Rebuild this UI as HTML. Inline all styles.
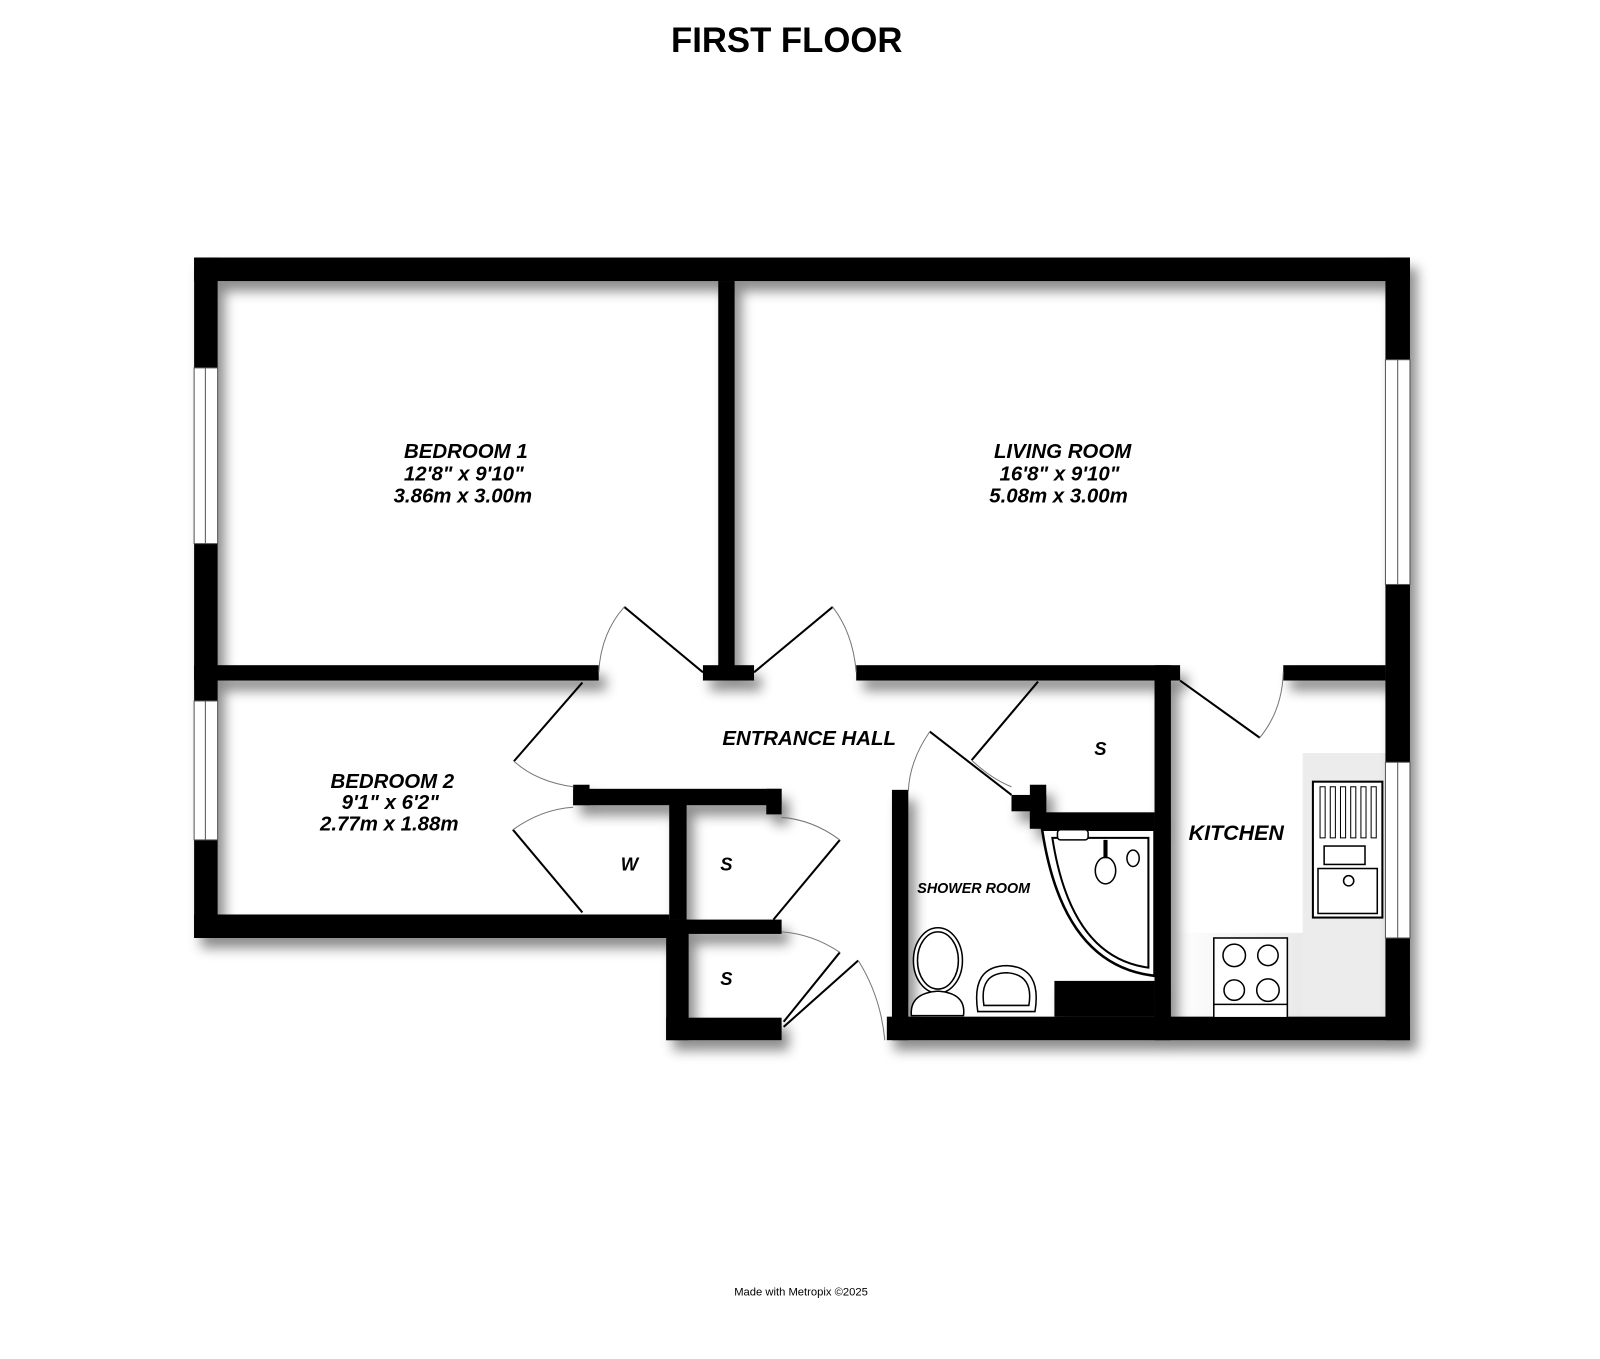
<!DOCTYPE html>
<html><head><meta charset="utf-8"><style>
html,body{margin:0;padding:0;background:#fff}
svg{display:block}
text{font-family:"Liberation Sans",sans-serif;font-weight:bold;font-style:italic;fill:#000}
</style></head><body>
<svg width="1600" height="1359" viewBox="0 0 1566 1330" xmlns="http://www.w3.org/2000/svg">
<defs>
<filter id="sh" x="-10%" y="-10%" width="130%" height="130%">
<feDropShadow dx="7" dy="10" stdDeviation="6" flood-color="#000" flood-opacity="0.45"/>
</filter>
<linearGradient id="cg" x1="0" x2="1"><stop offset="0" stop-color="#fff"/><stop offset="1" stop-color="#e6e6e6"/></linearGradient>
</defs>
<rect width="1566" height="1330" fill="#fff"/>
<text x="770" y="51" text-anchor="middle" style="font-style:normal;font-size:34px">FIRST FLOOR</text>

<rect x="1146" y="913" width="150" height="82" fill="url(#cg)"/>
<rect x="1275" y="737" width="81" height="258" fill="#ececec"/>

<g filter="url(#sh)" fill="#000">
<rect x="190" y="252" width="1190" height="23"/>
<rect x="190" y="252" width="23" height="666"/>
<rect x="1356" y="252" width="24" height="766"/>
<rect x="703" y="275" width="16" height="390"/>
<rect x="190" y="651" width="396" height="15"/>
<rect x="688" y="651" width="50" height="15"/>
<rect x="838" y="651" width="317" height="15"/>
<rect x="1256" y="651" width="100" height="15"/>
<rect x="190" y="895" width="465" height="23"/>
<rect x="655" y="900" width="110" height="14"/>
<rect x="561" y="772" width="204" height="16"/>
<rect x="561" y="768" width="16" height="20"/>
<rect x="750" y="772" width="15" height="25"/>
<rect x="655" y="784" width="17" height="116"/>
<rect x="652" y="900" width="22" height="118"/>
<rect x="652" y="996" width="113" height="22"/>
<rect x="873" y="773" width="16" height="245"/>
<rect x="868" y="995" width="512" height="23"/>
<rect x="1130" y="651" width="16" height="367"/>
<rect x="1008" y="795" width="122" height="16"/>
<rect x="1008" y="768" width="16" height="43"/>
<rect x="990" y="778" width="34" height="16"/>
<rect x="1032" y="960" width="98" height="35"/>
</g>

<g fill="#fff" stroke="#555" stroke-width="1">
<rect x="190" y="360" width="23" height="172"/><line x1="201" y1="360" x2="201" y2="532"/>
<rect x="190" y="686" width="23" height="136"/><line x1="201" y1="686" x2="201" y2="822"/>
<rect x="1356" y="352" width="24" height="220"/><line x1="1368" y1="352" x2="1368" y2="572"/>
<rect x="1356" y="746" width="24" height="172"/><line x1="1368" y1="746" x2="1368" y2="918"/>
</g>

<g fill="none" stroke="#000" stroke-width="2">
<line x1="688" y1="658" x2="611" y2="594"/>
<line x1="738" y1="658" x2="815" y2="594"/>
<line x1="570" y1="668" x2="503" y2="745"/>
<line x1="502" y1="812" x2="570" y2="893"/>
<line x1="757" y1="900" x2="822" y2="822"/>
<line x1="767" y1="1000" x2="822" y2="932"/>
<line x1="767" y1="1005" x2="840" y2="940"/>
<line x1="910" y1="716" x2="990" y2="778"/>
<line x1="1016" y1="667" x2="951" y2="744"/>
<line x1="1155" y1="666" x2="1233" y2="722"/>
</g>
<g fill="none" stroke="#777" stroke-width="1">
<path d="M611 594 Q588 620 586 658"/>
<path d="M815 594 Q835 620 838 658"/>
<path d="M503 745 Q525 765 561 770"/>
<path d="M502 812 Q530 792 561 790"/>
<path d="M822 822 Q795 802 765 800"/>
<path d="M822 932 Q795 914 765 912"/>
<path d="M840 940 Q862 975 866 1018"/>
<path d="M910 716 Q890 745 889 775"/>
<path d="M951 744 Q970 762 990 770"/>
<path d="M1233 722 Q1255 695 1256 658"/>
</g>

<g fill="#fff" stroke="#000" stroke-width="2.5">
<path d="M1020 812 L1130 812 L1130 955 Q1040 945 1020 812 Z"/>
<path d="M1030 820 L1124 820 L1124 947 Q1048 937 1030 820 Z" stroke-width="2"/>
<rect x="1035" y="812" width="30" height="10" rx="3" stroke-width="1.5"/>
<ellipse cx="1082" cy="852" rx="10" ry="13" stroke-width="1.5"/>
<line x1="1082" y1="822" x2="1082" y2="840" stroke-width="4"/>
<ellipse cx="1109" cy="840" rx="6" ry="8" stroke-width="1.5"/>
</g>
<g fill="#fff" stroke="#000" stroke-width="1.5">
<ellipse cx="918" cy="940" rx="24" ry="32"/>
<ellipse cx="918" cy="940" rx="20" ry="28"/>
<path d="M892 994 Q890 972 918 970 Q946 972 943 994 Z"/>
<path d="M957 990 Q950 945 986 945 Q1020 947 1013 990 Z"/>
<path d="M963 984 Q958 952 986 952 Q1012 954 1007 984 Z"/>
</g>
<g fill="#fff" stroke="#000" stroke-width="2">
<rect x="1285" y="765" width="68" height="133"/>
<g stroke-width="1"><rect x="1292" y="770" width="5" height="50"/><rect x="1302" y="770" width="5" height="50"/><rect x="1312" y="770" width="5" height="50"/><rect x="1322" y="770" width="5" height="50"/><rect x="1332" y="770" width="5" height="50"/><rect x="1342" y="770" width="5" height="50"/></g>
<rect x="1296" y="828" width="40" height="18" stroke-width="1.5"/>
<rect x="1290" y="850" width="58" height="44" stroke-width="1.5"/>
<circle cx="1320" cy="862" r="5" stroke-width="1.5"/>
</g>
<g fill="#fff" stroke="#000" stroke-width="1.5">
<rect x="1188" y="918" width="72" height="78"/>
<circle cx="1208" cy="935" r="11"/><circle cx="1241" cy="935" r="10"/>
<circle cx="1208" cy="969" r="10"/><circle cx="1241" cy="969" r="11"/>
<line x1="1188" y1="983" x2="1260" y2="983"/>
</g>

<g font-size="20" text-anchor="middle">
<text x="456" y="448">BEDROOM 1</text>
<text x="454" y="470">12'8"  x 9'10"</text>
<text x="453" y="492">3.86m  x 3.00m</text>
<text x="1040" y="448">LIVING ROOM</text>
<text x="1037" y="470">16'8"  x 9'10"</text>
<text x="1036" y="492">5.08m  x 3.00m</text>
<text x="792" y="729">ENTRANCE HALL</text>
<text x="384" y="771">BEDROOM 2</text>
<text x="382" y="792">9'1"  x 6'2"</text>
<text x="381" y="813">2.77m  x 1.88m</text>
<text x="616" y="852" font-size="18">W</text>
<text x="711" y="852" font-size="18">S</text>
<text x="711" y="964" font-size="18">S</text>
<text x="1077" y="739" font-size="18">S</text>
<text x="1210" y="822" font-size="21">KITCHEN</text>
<text x="953" y="874" font-size="14">SHOWER ROOM</text>
</g>
<text x="784" y="1268" text-anchor="middle" style="font-weight:normal;font-style:normal;font-size:11px">Made with Metropix ©2025</text>
</svg>
</body></html>
